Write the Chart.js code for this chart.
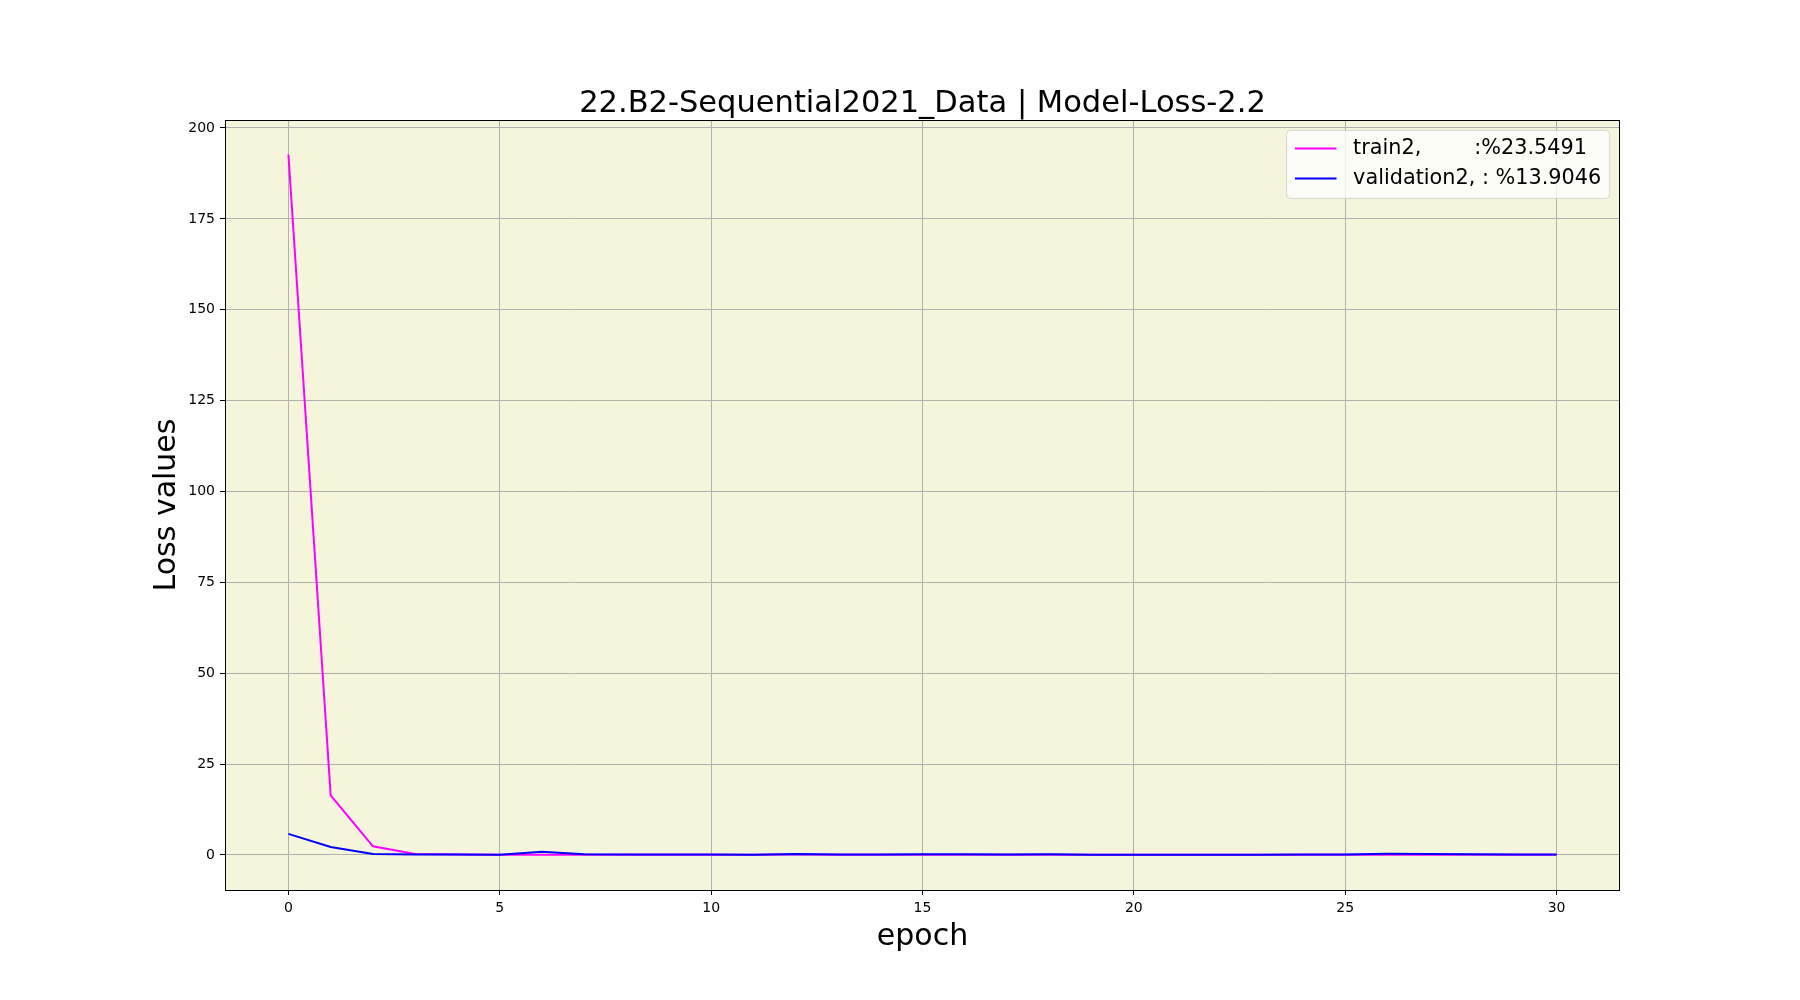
<!DOCTYPE html>
<html>
<head>
<meta charset="utf-8">
<script src="https://cdn.jsdelivr.net/npm/chart.js@4.4.0/dist/chart.umd.min.js"></script>
<style>
  body { margin: 0; background: #fff; }
  #wrap { width: 1800px; height: 1000px; }
</style>
</head>
<body>
<div id="wrap"><canvas id="lossChart" width="1800" height="1000"></canvas></div>
<script>
// values
const epochs = [0,1,2,3,4,5,6,7,8,9,10,11,12,13,14,15,16,17,18,19,20,21,22,23,24,25,26,27,28,29,30];
const trainLoss = [192.7, 16.4, 2.4, 0.3, 0.15, 0.1, 0.1, 0.1, 0.1, 0.1, 0.1, 0.1, 0.15, 0.1, 0.1, 0.1,
  0.1, 0.1, 0.1, 0.1, 0.05, 0.05, 0.05, 0.05, 0.1, 0.1, 0.1, 0.1, 0.1, 0.1, 0.1];
const valLoss = [5.8, 2.2, 0.3, 0.15, 0.15, 0.1, 0.9, 0.2, 0.15, 0.15, 0.15, 0.1, 0.3, 0.15, 0.15, 0.2,
  0.2, 0.15, 0.2, 0.1, 0.05, 0.1, 0.1, 0.1, 0.15, 0.15, 0.35, 0.3, 0.2, 0.15, 0.15];
const xTicks = [0, 5, 10, 15, 20, 25, 30];
const yTicks = [0, 25, 50, 75, 100, 125, 150, 175, 200];
const legendLabels = ['train2,        :%23.5491', 'validation2, : %13.9046'];
const chartTitle = '22.B2-Sequential2021_Data | Model-Loss-2.2';

const FONT = '"DejaVu Sans", sans-serif';

const decorPlugin = {
  id: 'decor',
  beforeDraw(chart) {
    const { ctx, chartArea: a } = chart;
    ctx.save();
    ctx.fillStyle = '#ffffff';
    ctx.fillRect(0, 0, chart.width, chart.height);
    ctx.fillStyle = '#f5f5dc';
    ctx.fillRect(a.left, a.top, a.right - a.left, a.bottom - a.top);
    ctx.restore();
  },
  afterDraw(chart) {
    const { ctx, chartArea: a } = chart;
    ctx.save();
    // frame
    ctx.strokeStyle = '#000';
    ctx.lineWidth = 1;
    ctx.strokeRect(a.left + 0.5, a.top + 0.5, a.right - a.left - 1, a.bottom - a.top);

    // title and axis labels
    ctx.fillStyle = '#000';
    ctx.font = '30.5px ' + FONT;
    ctx.textAlign = 'center';
    ctx.textBaseline = 'alphabetic';
    ctx.fillText(chartTitle, (a.left + a.right) / 2, a.top - 8);
    ctx.font = '30px ' + FONT;
    ctx.textBaseline = 'middle';
    ctx.fillText('epoch', (a.left + a.right) / 2, 937);
    ctx.translate(167, (a.top + a.bottom) / 2);
    ctx.rotate(-Math.PI / 2);
    ctx.fillText('Loss values', 0, 0);
    ctx.restore();

    // legend box
    ctx.save();
    const fs = 20.8;
    ctx.font = fs + 'px ' + FONT;
    const textW = Math.max(...legendLabels.map(t => ctx.measureText(t).width));
    const bx = a.right - 10.4 - (8.3 + 41.6 + 16.6 + textW + 8.3);
    const by = a.top + 10.4;
    const bw = a.right - 10.4 - bx;
    const bh = 68;
    ctx.beginPath();
    ctx.roundRect(bx, by, bw, bh, 4);
    ctx.fillStyle = 'rgba(255,255,255,0.8)';
    ctx.fill();
    ctx.strokeStyle = 'rgba(204,204,204,0.8)';
    ctx.lineWidth = 1;
    ctx.stroke();
    const colors = chart.data.datasets.map(d => d.borderColor);
    legendLabels.forEach((t, i) => {
      const cy = by + 18 + i * 30;
      ctx.strokeStyle = colors[i];
      ctx.lineWidth = 2;
      ctx.beginPath();
      ctx.moveTo(bx + 8.3, cy);
      ctx.lineTo(bx + 8.3 + 41.6, cy);
      ctx.stroke();
      ctx.fillStyle = '#000';
      ctx.textAlign = 'left';
      ctx.textBaseline = 'middle';
      ctx.fillText(t, bx + 8.3 + 41.6 + 16.6, cy);
    });
    ctx.restore();
  }
};

const ctx = document.getElementById('lossChart');
new Chart(ctx, {
  type: 'line',
  data: {
    datasets: [
      {
        label: 'train2',
        data: epochs.map((e, i) => ({ x: e, y: trainLoss[i] })),
        borderColor: '#ff00ff',
        borderWidth: 2,
        pointRadius: 0,
        tension: 0,
        order: 1
      },
      {
        label: 'validation2',
        data: epochs.map((e, i) => ({ x: e, y: valLoss[i] })),
        borderColor: '#0000ff',
        borderWidth: 2,
        pointRadius: 0,
        tension: 0,
        order: 0
      }
    ]
  },
  options: {
    responsive: false,
    animation: false,
    devicePixelRatio: 1,
    layout: { padding: { top: 120, right: 180, left: 0, bottom: 0 } },
    plugins: {
      legend: { display: false },
      title: { display: false },
      tooltip: { enabled: false }
    },
    scales: {
      x: {
        type: 'linear',
        min: -1.5,
        max: 31.5,
        afterBuildTicks: (scale) => { scale.ticks = xTicks.map(v => ({ value: v })); },
        afterFit: (scale) => { scale.height = 110; },
        grid: { color: '#b0b0b0', lineWidth: 1, tickColor: '#000', tickLength: 5 },
        border: { display: false },
        ticks: { color: '#000', font: { family: FONT, size: 14 }, padding: 5, maxRotation: 0 }
      },
      y: {
        type: 'linear',
        min: -9.63,
        max: 202.2,
        afterBuildTicks: (scale) => { scale.ticks = yTicks.map(v => ({ value: v })); },
        afterFit: (scale) => { scale.width = 225; },
        grid: { color: '#b0b0b0', lineWidth: 1, tickColor: '#000', tickLength: 5 },
        border: { display: false },
        ticks: { color: '#000', font: { family: FONT, size: 14 }, padding: 5 }
      }
    }
  },
  plugins: [decorPlugin]
});
</script>
</body>
</html>
